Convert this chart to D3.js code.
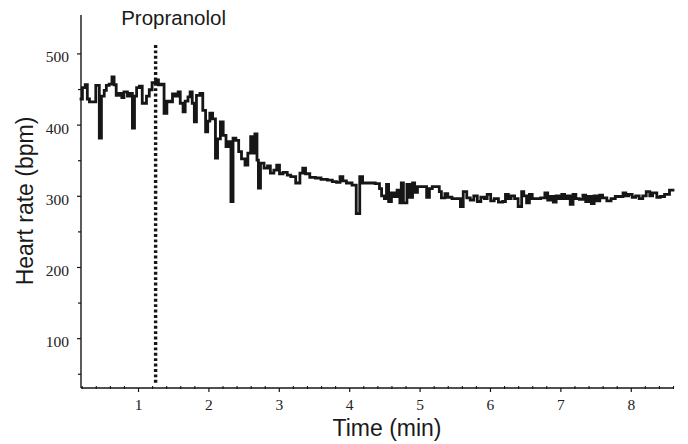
<!DOCTYPE html>
<html><head><meta charset="utf-8">
<script src="https://cdn.jsdelivr.net/npm/d3@7"></script>
<style>
html,body{margin:0;padding:0;background:#fff;}
svg{display:block;}
</style>
</head><body>
<svg id="chart" width="688" height="444"></svg>
<script>
// Time (min) of each step start
const times = [0.19,0.21,0.25,0.28,0.31,0.40,0.45,0.48,0.52,0.55,0.59,0.63,0.66,0.69,0.73,0.77,0.80,0.85,0.88,0.92,0.95,0.98,
1.02,1.06,1.12,1.16,1.20,1.25,1.29,1.33,1.37,1.41,1.45,1.49,1.53,1.57,1.60,1.64,1.67,1.71,1.74,1.77,1.80,1.83,1.88,1.92,1.96,1.99,
2.02,2.06,2.10,2.13,2.17,2.21,2.25,2.28,2.32,2.35,2.39,2.43,2.47,2.52,2.56,2.60,2.64,2.66,2.69,2.71,2.74,2.79,2.84,2.88,2.93,2.97,
3.01,3.06,3.12,3.17,3.24,3.30,3.34,3.38,3.44,3.52,3.60,3.69,3.76,3.82,3.87,3.91,3.96,
4.04,4.10,4.15,4.19,4.26,4.37,4.43,4.46,4.50,4.53,4.56,4.60,4.64,4.68,4.72,4.74,4.77,4.82,4.86,4.90,4.93,4.97,
5.03,5.10,5.14,5.18,5.23,5.28,5.31,5.36,5.40,5.46,5.53,5.58,5.62,5.67,5.72,5.77,5.82,5.87,5.92,5.96,
6.01,6.06,6.12,6.18,6.22,6.26,6.30,6.35,6.40,6.45,6.48,6.52,6.56,6.60,6.66,6.72,6.78,6.82,6.86,6.90,6.94,6.98,
7.02,7.06,7.10,7.14,7.18,7.22,7.27,7.32,7.36,7.40,7.44,7.48,7.52,7.56,7.60,7.66,7.72,7.78,7.84,7.89,7.93,7.97,
8.02,8.07,8.12,8.17,8.22,8.27,8.31,8.37,8.42,8.48,8.55,8.60];
// Heart rate (bpm) for each step
const heartRate = [436,452,456,436,432,455,381,440,448,455,457,467,456,441,444,438,446,440,444,395,440,452,
454,430,440,449,459,463,456,457,416,433,432,443,440,446,430,418,433,439,446,430,404,441,444,420,390,405,
416,408,353,380,404,385,369,376,292,381,378,362,352,343,360,383,360,387,350,311,346,339,342,332,336,343,
331,333,329,327,318,332,339,331,326,325,323,322,320,319,327,321,318,
315,275,327,318,318,317,310,300,296,316,292,304,299,308,290,318,290,316,298,318,305,313,
313,298,310,313,313,306,297,303,298,296,296,285,306,297,294,300,292,298,296,302,
293,296,291,292,302,296,300,296,285,306,300,290,302,296,296,297,304,294,299,291,300,296,
302,296,300,288,302,296,295,301,292,299,289,300,293,301,297,293,296,299,299,304,300,302,
298,300,296,300,306,300,304,298,299,302,308,308];

const yMajorTicks = [100,200,300,400,500];
const yMinorTicks = [50,150,250,350,450];
const xMajorTicks = [1,2,3,4,5,6,7,8];
const xMinorTicks = [0.2,0.4,0.6,0.8,1.2,1.4,1.6,1.8,2.2,2.4,2.6,2.8,3.2,3.4,3.6,3.8,4.2,4.4,4.6,4.8,5.2,5.4,5.6,5.8,6.2,6.4,6.6,6.8,7.2,7.4,7.6,7.8,8.2,8.4,8.6];
const drugTime = [1.25];
const drugLabel = "Propranolol";
const xTitle = "Time (min)";
const yTitle = "Heart rate (bpm)";

const svg = d3.select("#chart");
const x = d3.scaleLinear().domain([0.19, 8.6]).range([81, 673]);
const y = d3.scaleLinear().domain([30, 554]).range([388, 15]);
const ink = "#161616";
const serif = "'Liberation Serif','Times New Roman',serif";
const sans = "'Liberation Sans',Arial,Helvetica,sans-serif";

// y axis
const gy = svg.append("g").attr("transform","translate(81,0)")
  .call(d3.axisLeft(y).tickValues(yMajorTicks).tickSize(4).tickPadding(8).tickFormat(d3.format("d")));
gy.select(".domain").attr("stroke", ink).attr("stroke-width",1.4).attr("d","M0,15V388");
gy.selectAll(".tick line").attr("stroke", ink).attr("stroke-width",1.2);
gy.selectAll(".tick text").attr("font-family", serif).attr("font-size",15.5).attr("fill","#222").attr("dy","0.55em");
svg.append("g").attr("transform","translate(81,0)")
  .call(d3.axisLeft(y).tickValues(yMinorTicks).tickSize(3).tickFormat(""))
  .call(g=>{g.select(".domain").remove(); g.selectAll(".tick line").attr("stroke",ink).attr("stroke-width",1.2);});

// x axis
const gx = svg.append("g").attr("transform","translate(0,388)")
  .call(d3.axisBottom(x).tickValues(xMajorTicks).tickSize(4).tickPadding(7).tickFormat(d3.format("d")));
gx.select(".domain").attr("stroke", ink).attr("stroke-width",1.4).attr("d","M81,0H673");
gx.selectAll(".tick line").attr("stroke", ink).attr("stroke-width",1.2);
gx.selectAll(".tick text").attr("font-family", serif).attr("font-size",15.5).attr("fill","#222");
svg.append("g").attr("transform","translate(0,389)")
  .call(d3.axisBottom(x).tickValues(xMinorTicks).tickSize(-3).tickFormat(""))
  .call(g=>{g.select(".domain").remove(); g.selectAll(".tick line").attr("stroke",ink).attr("stroke-width",1.1);});

// heart rate trace
const data = times.map((t,i)=>({t, v: heartRate[i]}));
svg.append("path").datum(data)
  .attr("fill","none").attr("stroke", ink).attr("stroke-width",2.8)
  .attr("stroke-linejoin","miter").attr("stroke-linecap","square")
  .attr("d", d3.line().x(d=>x(d.t)).y(d=>y(d.v)).curve(d3.curveStepAfter));

// drug marker
svg.selectAll(".drug").data(drugTime).join("line").attr("class","drug")
  .attr("x1",d=>x(d)).attr("x2",d=>x(d)).attr("y1",45).attr("y2",383)
  .attr("stroke", ink).attr("stroke-width",3.4).attr("stroke-dasharray","2.9,2.5");
svg.append("text").attr("x", x(drugTime[0]) + 18).attr("y",25).attr("text-anchor","middle")
  .attr("font-family", sans).attr("font-size",20.5).attr("fill","#1a1a1a").text(drugLabel);

// titles
svg.append("text").attr("x",387).attr("y",436).attr("text-anchor","middle")
  .attr("font-family", sans).attr("font-size",23).attr("fill","#1a1a1a").text(xTitle);
svg.append("text").attr("transform","translate(33,201) rotate(-90)").attr("text-anchor","middle")
  .attr("font-family", sans).attr("font-size",23).attr("fill","#1a1a1a").text(yTitle);
</script>
</body></html>
